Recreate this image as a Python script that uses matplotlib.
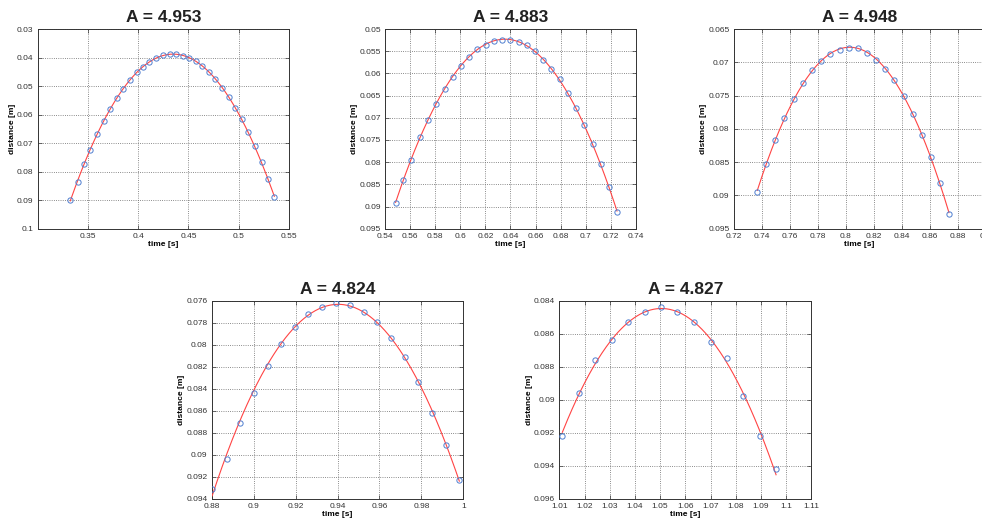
import numpy as np
import matplotlib
matplotlib.use('Agg')
import matplotlib.pyplot as plt

plt.rcParams['font.family'] = ['Liberation Sans', 'DejaVu Sans']

t1 = [0.3324, 0.3397, 0.3464, 0.3520, 0.3593, 0.3656, 0.3719, 0.3789, 0.3852, 0.3915,
      0.3984, 0.4047, 0.4110, 0.4180, 0.4246, 0.4313, 0.4376, 0.4442, 0.4505, 0.4571,
      0.4638, 0.4704, 0.4767, 0.4833, 0.4900, 0.4963, 0.5029, 0.5092, 0.5158, 0.5228,
      0.5291, 0.5354]
d1 = [0.0898, 0.0835, 0.0774, 0.0723, 0.0667, 0.0624, 0.0579, 0.0542, 0.0509, 0.0480,
      0.0451, 0.0432, 0.0416, 0.0402, 0.0392, 0.0388, 0.0388, 0.0393, 0.0400, 0.0412,
      0.0429, 0.0450, 0.0476, 0.0505, 0.0538, 0.0575, 0.0614, 0.0662, 0.0711, 0.0766,
      0.0826, 0.0889]

t2 = [0.5485, 0.5546, 0.5610, 0.5676, 0.5743, 0.5809, 0.5875, 0.5942, 0.6006, 0.6072,
      0.6136, 0.6202, 0.6269, 0.6335, 0.6399, 0.6465, 0.6529, 0.6595, 0.6662, 0.6726,
      0.6792, 0.6856, 0.6922, 0.6988, 0.7055, 0.7118, 0.7185, 0.7249]
d2 = [0.0891, 0.0840, 0.0795, 0.0744, 0.0704, 0.0668, 0.0634, 0.0607, 0.0583, 0.0562,
      0.0545, 0.0535, 0.0527, 0.0524, 0.0524, 0.0529, 0.0537, 0.0550, 0.0569, 0.0589,
      0.0613, 0.0645, 0.0678, 0.0716, 0.0759, 0.0804, 0.0857, 0.0912]

t3 = [0.7369, 0.7433, 0.7498, 0.7562, 0.7629, 0.7695, 0.7760, 0.7826, 0.7890, 0.7957,
      0.8021, 0.8088, 0.8152, 0.8217, 0.8283, 0.8348, 0.8414, 0.8479, 0.8543, 0.8610,
      0.8674, 0.8738]
d3 = [0.0895, 0.0853, 0.0816, 0.0783, 0.0755, 0.0731, 0.0712, 0.0698, 0.0687, 0.0681,
      0.0678, 0.0679, 0.0686, 0.0696, 0.0710, 0.0727, 0.0750, 0.0777, 0.0809, 0.0842,
      0.0881, 0.0928]

t4 = [0.8802, 0.8871, 0.8934, 0.9002, 0.9067, 0.9130, 0.9197, 0.9260, 0.9327, 0.9392,
      0.9458, 0.9524, 0.9588, 0.9653, 0.9722, 0.9785, 0.9852, 0.9916, 0.9981]
d4 = [0.0931, 0.0904, 0.0871, 0.0844, 0.0819, 0.0799, 0.0784, 0.0772, 0.0766, 0.0762,
      0.0764, 0.0770, 0.0779, 0.0794, 0.0811, 0.0834, 0.0862, 0.0891, 0.0923]

t5 = [1.0112, 1.0177, 1.0243, 1.0308, 1.0373, 1.0438, 1.0503, 1.0568, 1.0634, 1.0701,
      1.0764, 1.0829, 1.0895, 1.0960]
d5 = [0.0922, 0.0896, 0.0876, 0.0864, 0.0853, 0.0847, 0.0844, 0.0847, 0.0853, 0.0865,
      0.0875, 0.0898, 0.0922, 0.0942]

titles = ['A = 4.953', 'A = 4.883', 'A = 4.948', 'A = 4.824', 'A = 4.827']

xticks = [np.arange(0.35, 0.551, 0.05), np.arange(0.54, 0.741, 0.02),
          np.arange(0.72, 0.901, 0.02), np.arange(0.88, 1.001, 0.02),
          np.arange(1.01, 1.111, 0.01)]
yticks = [np.arange(0.03, 0.1001, 0.01), np.arange(0.05, 0.0951, 0.005),
          np.arange(0.065, 0.0951, 0.005), np.arange(0.076, 0.0941, 0.002),
          np.arange(0.084, 0.0961, 0.002)]
xlims = [(0.3, 0.55), (0.54, 0.74), (0.72, 0.9), (0.88, 1.0), (1.01, 1.11)]
ylims = [(0.03, 0.1), (0.05, 0.095), (0.065, 0.095), (0.076, 0.094), (0.084, 0.096)]

# Positionen der Achsen (links, unten, breite, hoehe)
positions = [[0.0384, 0.5635, 0.2559, 0.381],
             [0.3920, 0.5635, 0.2556, 0.381],
             [0.7471, 0.5635, 0.2566, 0.381],
             [0.2156, 0.0483, 0.2562, 0.378],
             [0.5696, 0.0483, 0.2566, 0.378]]

fig = plt.figure(figsize=(9.82, 5.24), dpi=100)

data = [(t1, d1), (t2, d2), (t3, d3), (t4, d4), (t5, d5)]
for i, (t, d) in enumerate(data):
    ax = fig.add_axes(positions[i])
    # Parabel-Fit wie im Original
    coef = np.polyfit(t, d, 2)
    tt = np.linspace(min(t), max(t), 200)
    ax.plot(tt, np.polyval(coef, tt), color='#ff4444', lw=0.8, zorder=3)
    ax.plot(t, d, 'o', mfc='none', mec='#4f7fd0', ms=3.8, mew=0.7, zorder=4)

    ax.set_xlim(xlims[i])
    ax.set_ylim(ylims[i])
    ax.invert_yaxis()
    ax.set_xticks(xticks[i])
    ax.set_yticks(yticks[i])
    ax.set_xticklabels(['%g' % round(v, 4) for v in xticks[i]])
    ax.set_yticklabels(['%g' % round(v, 4) for v in yticks[i]])
    ax.tick_params(direction='in', length=3, width=0.5, labelsize=6,
                   colors='#333333', top=True, right=True, pad=3)
    ax.grid(True, linestyle=':', color='#666666', linewidth=0.6)
    for s in ax.spines.values():
        s.set_color('#333333')
        s.set_linewidth(0.7)
    ax.set_xlabel('time [s]', fontsize=6, fontweight='bold', labelpad=1)
    ax.set_ylabel('distance [m]', fontsize=6, fontweight='bold', labelpad=1)
    ax.set_title(titles[i], fontsize=12.5, fontweight='bold', pad=5, color='#222222')

fig.savefig('out.png', dpi=100)
